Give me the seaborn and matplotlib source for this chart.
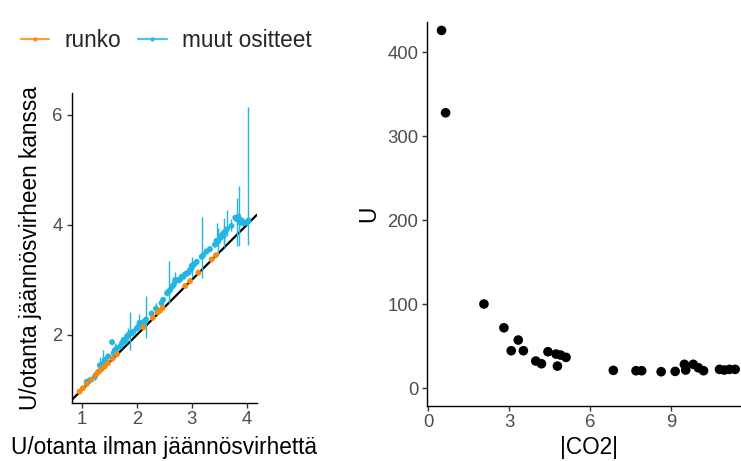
import matplotlib
matplotlib.use("Agg")
import matplotlib.pyplot as plt
from matplotlib.lines import Line2D
import seaborn as sns
import pandas as pd

# ---- data: left panel (U/otanta) ----
runko_x = [0.96, 1.02, 1.09, 1.18, 1.26, 1.32, 1.36, 1.42, 1.48, 1.56, 1.64,
           2.12, 2.29, 2.38, 2.42, 2.47, 2.88, 2.97, 3.12, 3.36, 3.44]
runko_y = [0.97, 1.03, 1.11, 1.19, 1.28, 1.34, 1.38, 1.43, 1.49, 1.57, 1.65,
           2.14, 2.31, 2.41, 2.44, 2.49, 2.89, 2.98, 3.13, 3.37, 3.45]

muut_x = [1.09, 1.15, 1.24, 1.30, 1.38, 1.42, 1.48, 1.55, 1.58, 1.64,
          1.70, 1.73, 1.76, 1.79, 1.82, 1.88, 1.91, 1.94, 2.00, 2.03,
          2.06, 2.09, 2.13, 2.17, 2.27, 2.45, 2.48, 2.55, 2.58, 2.61,
          2.64, 2.67, 2.70, 2.76, 2.79, 2.82, 2.85, 2.88, 2.91, 2.94,
          2.97, 3.00, 3.03, 3.06, 3.09, 3.18, 3.21, 3.27, 3.33, 3.42,
          3.45, 3.52, 3.55, 3.58, 3.61, 3.64, 3.79, 3.82, 3.85, 3.88,
          3.91, 3.94, 3.99, 4.03,
          1.33, 1.60, 1.85, 2.05, 2.70, 3.00, 3.48, 3.58, 3.72, 2.35]
muut_y = [1.15, 1.18, 1.24, 1.33, 1.48, 1.55, 1.61, 1.87, 1.67, 1.76,
          1.79, 1.85, 1.91, 1.88, 1.97, 2.03, 2.03, 2.06, 2.12, 2.15,
          2.18, 2.21, 2.24, 2.28, 2.39, 2.58, 2.64, 2.76, 2.79, 2.82,
          2.88, 2.91, 2.97, 3.00, 3.01, 3.06, 3.06, 3.10, 3.12, 3.13,
          3.18, 3.21, 3.27, 3.30, 3.33, 3.42, 3.45, 3.52, 3.56, 3.64,
          3.71, 3.76, 3.82, 3.85, 3.88, 3.92, 4.13, 4.10, 4.15, 4.04,
          4.08, 4.03, 4.04, 4.08,
          1.45, 1.72, 2.00, 2.22, 3.00, 3.26, 3.70, 3.80, 3.98, 2.48]
muut_lo = [1.10, 1.13, 1.19, 1.28, 1.36, 1.50, 1.56, 1.82, 1.62, 1.71,
           1.74, 1.80, 1.86, 1.83, 1.92, 1.73, 1.98, 2.01, 2.07, 2.10,
           2.13, 2.16, 2.19, 1.94, 2.34, 2.53, 2.59, 2.71, 2.58, 2.77,
           2.83, 2.86, 2.92, 2.95, 2.96, 3.01, 3.01, 3.05, 3.07, 3.08,
           3.13, 3.16, 3.22, 3.25, 3.28, 3.03, 3.40, 3.47, 3.51, 3.59,
           3.61, 3.71, 3.77, 3.67, 3.83, 3.79, 4.08, 3.61, 3.61, 3.99,
           4.03, 3.98, 3.99, 3.64,
           1.38, 1.62, 1.90, 2.10, 2.88, 3.06, 3.45, 3.60, 3.88, 2.40]
muut_hi = [1.20, 1.23, 1.29, 1.38, 1.73, 1.60, 1.66, 1.92, 1.72, 1.81,
           1.84, 1.90, 1.96, 1.93, 2.02, 2.42, 2.08, 2.11, 2.17, 2.20,
           2.23, 2.26, 2.29, 2.70, 2.44, 2.63, 2.69, 2.81, 3.35, 2.87,
           2.93, 2.96, 3.02, 3.05, 3.06, 3.11, 3.11, 3.15, 3.17, 3.18,
           3.23, 3.26, 3.32, 3.35, 3.38, 4.15, 3.50, 3.57, 3.61, 3.69,
           4.03, 3.81, 3.87, 4.12, 3.93, 4.27, 4.18, 4.49, 4.70, 4.09,
           4.13, 4.08, 4.09, 6.15,
           1.60, 1.85, 2.12, 2.38, 3.15, 3.42, 3.94, 3.98, 4.10, 2.58]

# ---- data: right panel (U vs |CO2|) ----
co2 = [0.49, 0.64, 2.06, 2.80, 3.07, 3.33, 3.52, 3.98, 4.19, 4.43, 4.73, 4.78,
       4.90, 5.10, 6.85, 7.69, 7.90, 8.62, 9.14, 9.48, 9.53, 9.81, 10.00,
       10.19, 10.78, 10.96, 11.15, 11.36]
U = [426, 328, 100.4, 72.1, 44.8, 57.5, 44.8, 32.5, 29.3, 43.6, 40.8, 26.5,
     39.6, 36.9, 21.4, 21.0, 21.0, 19.8, 20.2, 28.6, 21.8, 28.6, 24.5,
     21.0, 22.6, 21.8, 22.6, 22.6]

left_xticks = [1, 2, 3, 4]
left_yticks = [2, 4, 6]
right_xticks = [0, 3, 6, 9]
right_yticks = [0, 100, 200, 300, 400]

ORANGE = "#F7890F"
CYAN = "#22B7E3"
TICKTXT = "#4D4D4D"

sns.set_theme(style="ticks")
plt.rcParams["font.family"] = ["Liberation Sans", "DejaVu Sans"]

W, H = 741, 461
fig = plt.figure(figsize=(W / 100, H / 100), dpi=100)

def style(ax):
    sns.despine(ax=ax)
    for s in ("left", "bottom"):
        ax.spines[s].set_color("black")
        ax.spines[s].set_linewidth(1.0)
    ax.tick_params(axis="both", length=3.6, width=1.0, color="#333333",
                   labelcolor=TICKTXT, labelsize=13.3)
    ax.tick_params(axis="y", pad=3.0)
    ax.tick_params(axis="x", pad=2.0)
    ax.set_xlabel("")
    ax.set_ylabel("")
    ax.grid(False)
    ax.set_facecolor("white")

# ---- left panel ----
ax1 = fig.add_axes([71.7 / W, (H - 403.3) / H, 185 / W, 310 / H])
ax1.axline((1, 1), slope=1, color="black", lw=1.6, zorder=1)
ax1.vlines(muut_x, muut_lo, muut_hi, color=CYAN, lw=1.0, zorder=2)
df_m = pd.DataFrame({"x": muut_x, "y": muut_y})
df_r = pd.DataFrame({"x": runko_x, "y": runko_y})
sns.scatterplot(data=df_m, x="x", y="y", ax=ax1, color=CYAN, s=18,
                edgecolor="none", zorder=3, legend=False)
sns.scatterplot(data=df_r, x="x", y="y", ax=ax1, color=ORANGE, s=18,
                edgecolor="none", zorder=4, legend=False)
ax1.set_xlim(0.818, 4.18)
ax1.set_ylim(0.758, 6.39)
ax1.set_xticks(left_xticks)
ax1.set_yticks(left_yticks)
style(ax1)

# ---- right panel ----
ax2 = fig.add_axes([427.3 / W, 55 / H, (750 - 427.3) / W, 384.3 / H])
df_u = pd.DataFrame({"co2": co2, "U": U})
sns.scatterplot(data=df_u, x="co2", y="U", ax=ax2, color="black", s=48,
                edgecolor="none", legend=False)
ax2.set_xlim(-0.037, 11.91)
ax2.set_ylim(-21, 436.4)
ax2.set_xticks(right_xticks)
ax2.set_yticks(right_yticks)
style(ax2)

# ---- axis titles ----
fs = 16.3
fig.text(164 / W, 1 - 454 / H, "U/otanta ilman jäännösvirhettä",
         ha="center", va="baseline", fontsize=fs, color="black")
fig.text(31 / W, 1 - 248 / H, "U/otanta jäännösvirheen kanssa",
         ha="center", va="center", rotation=90, fontsize=fs, color="black")
fig.text(588.7 / W, 1 - 454 / H, "|CO2|",
         ha="center", va="baseline", fontsize=fs, color="black")
fig.text(369 / W, 1 - 214 / H, "U",
         ha="center", va="center", rotation=90, fontsize=fs, color="black")

# ---- legend ----
handles = [
    Line2D([], [], color=ORANGE, lw=1.6, alpha=0.8, marker="o", markersize=2.2),
    Line2D([], [], color=CYAN, lw=1.6, alpha=0.8, marker="o", markersize=2.2),
]
fig.legend(handles, ["runko", "muut ositteet"], loc="center left",
           bbox_to_anchor=(20.7 / W, 1 - 40.7 / H), ncol=2, frameon=False,
           fontsize=16.3, handlelength=1.26, handletextpad=0.69,
           columnspacing=0.73, borderpad=0, borderaxespad=0)

fig.savefig("out.png", dpi=100, facecolor="white")
